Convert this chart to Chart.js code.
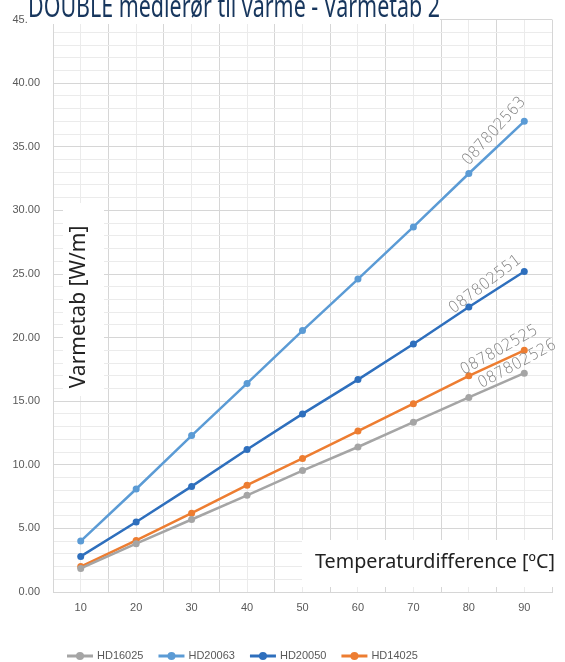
<!DOCTYPE html>
<html>
<head>
<meta charset="utf-8">
<script src="https://cdn.jsdelivr.net/npm/chart.js@4.4.1/dist/chart.umd.min.js"></script>
<style>
  html, body { margin: 0; padding: 0; background: #fff; }
</style>
</head>
<body>
<canvas id="chart" width="565" height="662"></canvas>
<script>
// data
const temps = [10, 20, 30, 40, 50, 60, 70, 80, 90];
const hd16025 = [1.85, 3.80, 5.70, 7.60, 9.55, 11.40, 13.35, 15.30, 17.20];
const hd20063 = [4.00, 8.10, 12.30, 16.40, 20.55, 24.60, 28.70, 32.90, 37.00];
const hd20050 = [2.80, 5.50, 8.30, 11.20, 14.00, 16.70, 19.50, 22.40, 25.20];
const hd14025 = [2.00, 4.05, 6.20, 8.40, 10.50, 12.65, 14.80, 17.00, 19.00];
const seriesNames = ["HD16025", "HD20063", "HD20050", "HD14025"];
const endLabels = ["087802526", "087802563", "087802551", "087802525"];
const colors = ["#a5a5a5", "#5b9bd5", "#2e6fbd", "#ed7d31"];

const titleText = "DOUBLE medierør til varme - Varmetab 2";
const yTitle = "Varmetab [W/m]";
const xTitle = "Temperaturdifference [ºC]";

// nudges for the rotated end labels (center offset from last point, px)
const labelNudge = [[-7, -9], [-30, 10], [-39, 13], [-25, 0]];

const toPoints = vals => vals.map((v, i) => ({ x: temps[i], y: v }));
const seriesVals = [hd16025, hd20063, hd20050, hd14025];

const overlay = {
  id: "overlay",
  afterDraw(chart) {
    const ctx = chart.ctx;

    // rotated labels at line ends
    chart.data.datasets.forEach((ds, i) => {
      const pts = chart.getDatasetMeta(i).data;
      const a = pts[pts.length - 2], b = pts[pts.length - 1];
      const ang = Math.atan2(b.y - a.y, b.x - a.x) - 0.08;
      ctx.save();
      ctx.translate(b.x + labelNudge[i][0], b.y + labelNudge[i][1]);
      ctx.rotate(ang);
      ctx.font = '200 16px "DejaVu Sans"';
      ctx.fillStyle = "#808080";
      ctx.textAlign = "center";
      ctx.textBaseline = "middle";
      ctx.fillText(endLabels[i], 0, 0, 86);
      ctx.restore();
    });

    // title (cut off at top, on white)
    ctx.save();
    ctx.fillStyle = "#fff";
    ctx.fillRect(28, 0, 412, 24);
    ctx.font = '30px "Noto Sans"';
    ctx.fillStyle = "#17365d";
    ctx.textAlign = "left";
    ctx.textBaseline = "alphabetic";
    ctx.fillText(titleText, 28, 17, 412);
    ctx.restore();

    // y axis title box
    ctx.save();
    ctx.fillStyle = "#fff";
    ctx.fillRect(63, 203, 41, 193);
    ctx.translate(79, 307);
    ctx.rotate(-Math.PI / 2);
    ctx.font = '21px "Noto Sans"';
    ctx.fillStyle = "#222";
    ctx.textAlign = "center";
    ctx.textBaseline = "middle";
    ctx.fillText(yTitle, 0, 0);
    ctx.restore();

    // x axis title box
    ctx.save();
    ctx.fillStyle = "#fff";
    ctx.fillRect(302, 540, 263, 47);
    ctx.font = '20px "Noto Sans"';
    ctx.fillStyle = "#222";
    ctx.textAlign = "left";
    ctx.textBaseline = "middle";
    ctx.fillText(xTitle, 315, 562, 240);
    ctx.restore();

    // legend: line + dot
    ctx.save();
    ctx.font = '11px "Liberation Sans"';
    ctx.textBaseline = "middle";
    ctx.textAlign = "left";
    let lx = 67;
    seriesNames.forEach((name, i) => {
      const ly = 656;
      ctx.strokeStyle = colors[i];
      ctx.lineWidth = 3;
      ctx.beginPath();
      ctx.moveTo(lx, ly);
      ctx.lineTo(lx + 26, ly);
      ctx.stroke();
      ctx.fillStyle = colors[i];
      ctx.beginPath();
      ctx.arc(lx + 13, ly, 4, 0, Math.PI * 2);
      ctx.fill();
      ctx.fillStyle = "#595959";
      ctx.fillText(name, lx + 30, ly);
      lx += 30 + ctx.measureText(name).width + 15;
    });
    ctx.restore();
  }
};

new Chart(document.getElementById("chart"), {
  type: "line",
  data: {
    datasets: seriesNames.map((name, i) => ({
      label: name,
      data: toPoints(seriesVals[i]),
      borderColor: colors[i],
      backgroundColor: colors[i],
      borderWidth: 2.5,
      pointRadius: 3.5,
      pointBorderWidth: 0,
      tension: 0
    }))
  },
  options: {
    responsive: false,
    animation: false,
    layout: { padding: { top: 11, right: 13, left: 0, bottom: 0 } },
    plugins: { legend: { display: false }, title: { display: false }, tooltip: { enabled: false } },
    scales: {
      x: {
        type: "linear",
        min: 5,
        max: 95,
        afterFit: s => { s.height = 70; },
        ticks: {
          stepSize: 5,
          autoSkip: false,
          padding: 9,
          color: "#595959",
          font: { family: "Liberation Sans", size: 11 },
          callback: v => (v % 10 === 0 ? v : "")
        },
        grid: {
          drawTicks: false,
          color: c => (c.tick && c.tick.value % 10 === 5 ? "#d6d6d6" : "#ebebeb")
        },
        border: { color: "#d6d6d6" }
      },
      y: {
        min: 0,
        max: 45,
        afterFit: s => { s.width = 53; },
        ticks: {
          stepSize: 1,
          autoSkip: false,
          padding: 13,
          color: "#595959",
          font: { family: "Liberation Sans", size: 11 },
          callback: v => (v % 5 === 0 ? v.toFixed(2) : "")
        },
        grid: {
          drawTicks: false,
          color: c => (c.tick && c.tick.value % 5 === 0 ? "#d6d6d6" : "#ebebeb")
        },
        border: { color: "#d6d6d6" }
      }
    }
  },
  plugins: [overlay]
});
</script>
</body>
</html>
